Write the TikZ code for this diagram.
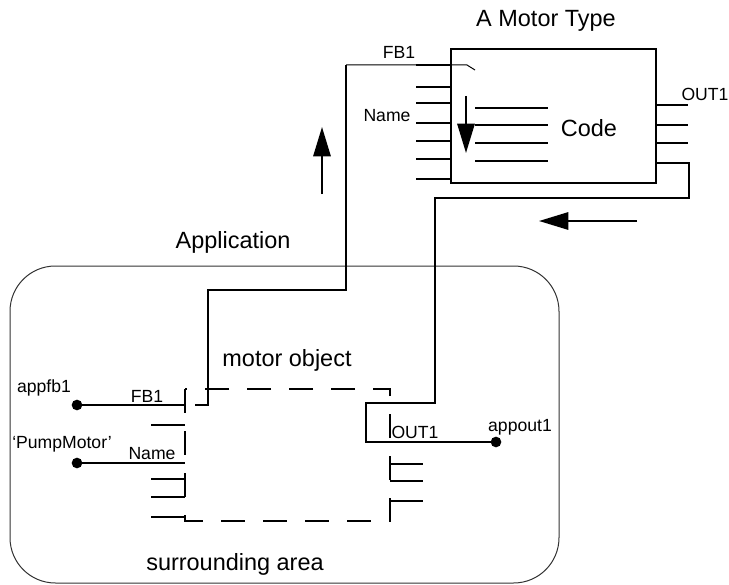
\documentclass[tikz,border=0pt]{standalone}
\usepackage{fontspec}
\setmainfont{Liberation Sans}
\usetikzlibrary{arrows.meta}

\tikzset{every picture/.style={line width=0.75pt}}
\tikzset{
	big label/.style={font=\fontsize{17.6}{20}\selectfont, anchor=base, inner sep=0pt},
	small label/.style={font=\fontsize{13.2}{15}\selectfont, anchor=base, inner sep=0pt},
	wire/.style={line width=1.5pt},
	thin wire/.style={line width=0.75pt},
	pin/.style={line width=1.5pt},
	flow arrow/.style={line width=1.5pt, -{Triangle[length=22pt,width=13pt]}},
	pindot/.style={circle, fill=black, inner sep=0pt, minimum size=8pt}}

\begin{document}
\begin{tikzpicture}[x=0.75pt,y=0.75pt,yscale=-1,xscale=1]
	\useasboundingbox (0,0) rectangle (729,585);

	%Shape: Rounded Rect [surrounding area]
	\draw [black!80, rounded corners=34pt] (10,266) rectangle (559,583) ;
	%Shape: Rectangle [motor type]
	\draw [line width=1.5pt] (451,49) rectangle (656,183) ;
	%Shape: Rectangle [motor object]
	\draw [line width=1.5pt, dash pattern=on 18pt off 13.5pt] (185,389) rectangle (390,521) ;

	% pins of the type
	\foreach \y in {65,87,103,123,141,159,179}
		\draw [pin] (416,\y) -- (451,\y) ;
	\foreach \y in {105,125,143,163}
		\draw [pin] (656,\y) -- (688,\y) ;
	% code lines
	\foreach \y in {108,125,143,161}
		\draw [pin] (475,\y) -- (548,\y) ;
	% pins of the object
	\foreach \y in {425,479,497,517}
		\draw [pin] (151,\y) -- (185,\y) ;
	\foreach \y in {442,464,481,501}
		\draw [pin] (390,\y) -- (423,\y) ;

	% Connection points
	\coordinate (fbIn) at (195,405) ;
	\coordinate (fbTop) at (346,65) ;
	\coordinate (fbEnd) at (475,70) ;
	\coordinate (outTop) at (656,163) ;
	\coordinate (outIn) at (366,442) ;
	\coordinate (fbPin) at (185,405) ;
	\coordinate (namePin) at (185,463) ;

	% Dots
	\node [pindot] (appfb1) at (77,405) {} ;
	\node [pindot] (pump) at (77,463) {} ;
	\node [pindot] (appout1) at (496,442) {} ;

	%Straight Lines [FB1 link]
	\draw [wire] (fbIn) -- (208,405) -- (208,290) -- (346,290) -- (fbTop) ;
	\draw [thin wire] (fbTop) -- (467,65) -- (fbEnd) ;
	%Straight Lines [OUT1 link]
	\draw [wire] (outTop) -- (689,163) -- (689,198) -- (435,198) -- (435,403) -- (366,403) -- (outIn) -- (appout1.center) ;
	%Straight Lines [inputs]
	\draw [wire] (appfb1.center) -- (fbPin) ;
	\draw [wire] (pump.center) -- (namePin) ;

	%Arrows
	\draw [flow arrow] (322,194) -- (322,127) ;
	\draw [flow arrow] (637,221) -- (539,221) ;
	\draw [flow arrow] (466,96) -- (466,153) ;

	% Text Node
	\node [big label] (typeTitle) at (546,27) {A Motor Type} ;
	% Text Node
	\node [big label] (code) at (589,137) {Code} ;
	% Text Node
	\node [big label] (appl) at (233,248) {Application} ;
	% Text Node
	\node [big label] (objTitle) at (287,366) {motor object} ;
	% Text Node
	\node [big label] (area) at (235,570) {surrounding area} ;
	% Text Node
	\node [small label] (fbTypeLbl) at (399,59) {FB1} ;
	% Text Node
	\node [small label] (nameTypeLbl) at (387,122) {Name} ;
	% Text Node
	\node [small label] (outTypeLbl) at (705,101) {OUT1} ;
	% Text Node
	\node [small label] (appfbLbl) at (44,392) {appfb1} ;
	% Text Node
	\node [small label] (fbObjLbl) at (147,402) {FB1} ;
	% Text Node
	\node [small label] (pumpLbl) at (62,448) {‘PumpMotor’} ;
	% Text Node
	\node [small label] (nameObjLbl) at (152,459) {Name} ;
	% Text Node
	\node [small label] (outObjLbl) at (415,438) {OUT1} ;
	% Text Node
	\node [small label] (appoutLbl) at (520,431) {appout1} ;

\end{tikzpicture}
\end{document}
